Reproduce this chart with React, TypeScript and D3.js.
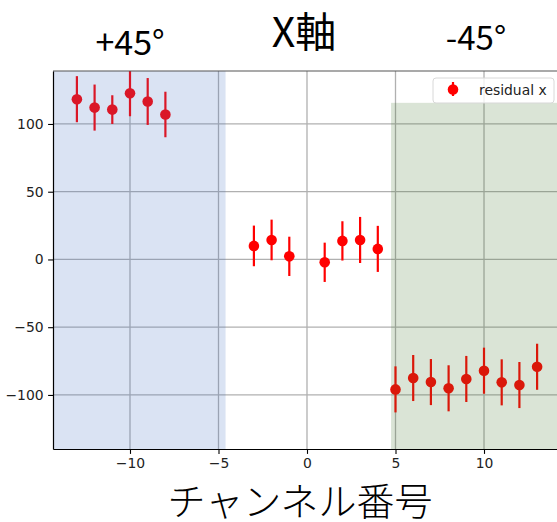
import React, { useEffect, useRef } from 'react';
import * as d3 from 'd3';

// channel numbers and residuals
const channels = [-13, -12, -11, -10, -9, -8, -3, -2, -1, 1, 2, 3, 4, 5, 6, 7, 8, 9, 10, 11, 12, 13];
const residuals = [118.3, 112.1, 110.6, 122.7, 116.6, 107, 10, 14.4, 2.3, -2.1, 13.7, 14.4, 7.8,
  -95.9, -87.5, -90.5, -95.1, -88.2, -82.1, -90.7, -92.7, -79.2];
const errors = [17, 17, 10.6, 17, 17.3, 16.8, 15, 15, 14.5, 14.5, 14.5, 17, 17,
  17, 17, 17, 17, 17, 17, 17, 17, 17];

const xTicks = [-10, -5, 0, 5, 10];
const yTicks = [-100, -50, 0, 50, 100];

const plusSpan = [-20, -4.6];
const minusSpan = [4.75, 20];
const minusSpanTop = 115.6;

const App = () => {
  const svgRef = useRef<SVGSVGElement>(null);

  useEffect(() => {
    const svg = d3.select(svgRef.current);
    svg.selectAll('*').remove();

    const left = 53, right = 561, top = 71, bottom = 449;
    const x = d3.scaleLinear().domain([-14.35, 14.35]).range([left, right]);
    const y = d3.scaleLinear().domain([-139.9, 139.1]).range([bottom, top]);

    svg.append('defs').append('clipPath').attr('id', 'plot')
      .append('rect').attr('x', left).attr('y', top)
      .attr('width', right - left).attr('height', bottom - top);

    const plot = svg.append('g').attr('clip-path', 'url(#plot)');

    // grid
    plot.selectAll('.gx').data(xTicks).enter().append('line')
      .attr('x1', d => x(d)).attr('x2', d => x(d))
      .attr('y1', top).attr('y2', bottom)
      .attr('stroke', '#b0b0b0').attr('stroke-width', 1.3);
    plot.selectAll('.gy').data(yTicks).enter().append('line')
      .attr('x1', left).attr('x2', right)
      .attr('y1', d => y(d)).attr('y2', d => y(d))
      .attr('stroke', '#b0b0b0').attr('stroke-width', 1.3);

    const pts = channels.map((c, i) => ({ c, v: residuals[i], e: errors[i] }));

    plot.selectAll('.err').data(pts).enter().append('line')
      .attr('x1', d => x(d.c)).attr('x2', d => x(d.c))
      .attr('y1', d => y(d.v + d.e)).attr('y2', d => y(d.v - d.e))
      .attr('stroke', '#ff0000').attr('stroke-width', 2.2);
    plot.selectAll('.dot').data(pts).enter().append('circle')
      .attr('cx', d => x(d.c)).attr('cy', d => y(d.v)).attr('r', 5.3)
      .attr('fill', '#ff0000');

    // shaded spans drawn over the points
    plot.append('rect')
      .attr('x', x(plusSpan[0])).attr('width', x(plusSpan[1]) - x(plusSpan[0]))
      .attr('y', top).attr('height', bottom - top)
      .attr('fill', '#4472c4').attr('fill-opacity', 0.2);
    plot.append('rect')
      .attr('x', x(minusSpan[0])).attr('width', x(minusSpan[1]) - x(minusSpan[0]))
      .attr('y', y(minusSpanTop)).attr('height', bottom - y(minusSpanTop))
      .attr('fill', '#467832').attr('fill-opacity', 0.2);

    // spines
    svg.append('line').attr('x1', left).attr('x2', right).attr('y1', top).attr('y2', top)
      .attr('stroke', '#555').attr('stroke-width', 1.2);

    const fmt = d3.format('d');
    const xAxis = svg.append('g').attr('transform', `translate(0,${bottom})`)
      .call(d3.axisBottom(x).tickValues(xTicks).tickFormat(d => fmt(d as number))
        .tickSizeInner(4.9).tickSizeOuter(0).tickPadding(4.5));
    const yAxis = svg.append('g').attr('transform', `translate(${left},0)`)
      .call(d3.axisLeft(y).tickValues(yTicks).tickFormat(d => fmt(d as number))
        .tickSizeInner(4.9).tickSizeOuter(0).tickPadding(4.5));
    [xAxis, yAxis].forEach(a => {
      a.select('.domain').attr('stroke', '#000').attr('stroke-width', 1.2);
      a.selectAll('.tick line').attr('stroke', '#000').attr('stroke-width', 1.1);
      a.selectAll('text').attr('fill', '#222')
        .style('font-family', '"DejaVu Sans"').style('font-size', '13.9px');
    });

    // legend
    const lg = svg.append('g');
    lg.append('rect').attr('x', 433).attr('y', 78).attr('width', 121).attr('height', 25)
      .attr('rx', 3).attr('fill', '#fff').attr('fill-opacity', 0.8)
      .attr('stroke', '#d8d8d8').attr('stroke-width', 1);
    lg.append('line').attr('x1', 453).attr('x2', 453).attr('y1', 82).attr('y2', 96)
      .attr('stroke', '#ff0000').attr('stroke-width', 2.2);
    lg.append('circle').attr('cx', 453).attr('cy', 89.5).attr('r', 5.3).attr('fill', '#ff0000');
    lg.append('text').attr('x', 479).attr('y', 94.5).text('residual x')
      .attr('fill', '#222').style('font-family', '"DejaVu Sans"').style('font-size', '13.9px');

    const jp = '"Noto Sans CJK JP", sans-serif';
    svg.append('text').attr('x', 304).attr('y', 47).attr('text-anchor', 'middle')
      .style('font-family', jp).style('font-size', '41px').text('X軸');
    svg.append('text').attr('x', 130).attr('y', 55).attr('text-anchor', 'middle')
      .style('font-family', jp).style('font-size', '34px').text('+45°');
    svg.append('text').attr('x', 476).attr('y', 50).attr('text-anchor', 'middle')
      .style('font-family', jp).style('font-size', '33px').text('-45°');
    svg.append('text').attr('x', 300).attr('y', 515).attr('text-anchor', 'middle')
      .style('font-family', jp).style('font-size', '38px').style('font-weight', 300)
      .text('チャンネル番号');
  }, []);

  return (
    <div style={{ position: 'fixed', left: 0, top: 0 }}>
      <svg ref={svgRef} width={557} height={522} style={{ display: 'block', background: '#fff' }} />
    </div>
  );
};

export default App;
